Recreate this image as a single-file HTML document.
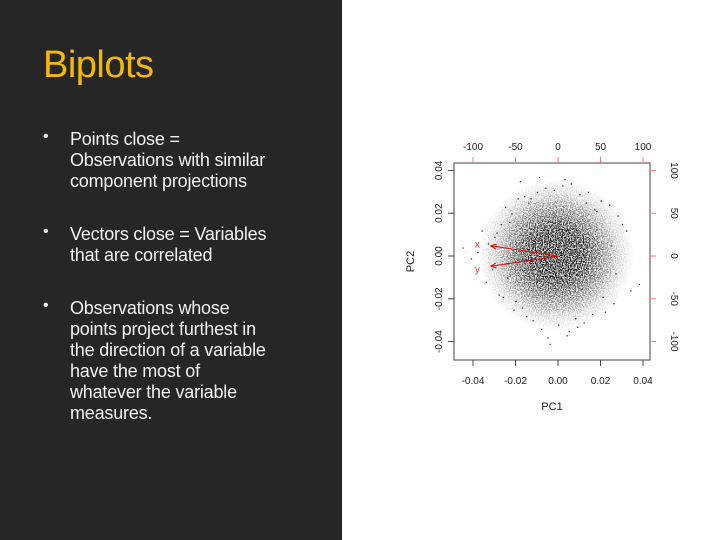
<!DOCTYPE html>
<html><head><meta charset="utf-8"><style>
body{margin:0;width:720px;height:540px;overflow:hidden;background:#fff;font-family:"Liberation Sans",sans-serif}
#left{position:absolute;left:0;top:0;width:342px;height:540px;background:#262626}
#title{position:absolute;left:43px;top:44px;font-size:38px;color:#f5b800;letter-spacing:-0.5px}
.b{position:absolute;left:70px;color:#f2f2f2;font-size:18px;line-height:21px;letter-spacing:-0.2px}
.dot{position:absolute;left:43px;color:#f2f2f2;font-size:16px}
#chart{position:absolute;left:0;top:0}
</style></head><body>
<div id="left">
<div id="title">Biplots</div>
<div class="dot" style="top:128px">•</div>
<div class="b" style="top:129px">Points close =<br>Observations with similar<br>component projections</div>
<div class="dot" style="top:223px">•</div>
<div class="b" style="top:224px">Vectors close = Variables<br>that are correlated</div>
<div class="dot" style="top:297px">•</div>
<div class="b" style="top:298px">Observations whose<br>points project furthest in<br>the direction of a variable<br>have the most of<br>whatever the variable<br>measures.</div>
</div>
<svg id="chart" width="720" height="540">
<defs>
<radialGradient id="cloud" cx="50%" cy="50%" r="50%">
<stop offset="0" stop-color="#fff" stop-opacity="1"/>
<stop offset="0.35" stop-color="#fff" stop-opacity="0.9"/>
<stop offset="0.6" stop-color="#fff" stop-opacity="0.5"/>
<stop offset="0.8" stop-color="#fff" stop-opacity="0.18"/>
<stop offset="1" stop-color="#fff" stop-opacity="0"/>
</radialGradient>
<mask id="cm"><ellipse cx="556" cy="255" rx="78" ry="76" fill="url(#cloud)"/></mask>
<filter id="speck" x="0" y="0" width="100%" height="100%">
<feTurbulence type="fractalNoise" baseFrequency="0.85" numOctaves="1" seed="3"/>
<feColorMatrix type="matrix" values="0 0 0 0 0  0 0 0 0 0  0 0 0 0 0  1.6 0 0 0 -0.35"/>
<feComponentTransfer><feFuncA type="discrete" tableValues="0 0.35 1 1"/></feComponentTransfer>
</filter>
</defs>
<g id="g"></g>
</svg>
<script>
const xTicks=[-0.04,-0.02,0,0.02,0.04];
const xTickLabels=["-0.04","-0.02","0.00","0.02","0.04"];
const yTicks=[-0.04,-0.02,0,0.02,0.04];
const yTickLabels=["-0.04","-0.02","0.00","0.02","0.04"];
const topTicks=[-100,-50,0,50,100];
const rightTicks=[-100,-50,0,50,100];
const varNames=["x","y"];
const loadX=[-79,-79];
const loadY=[12,-12];
const ptX=[-0.045,-0.041,-0.038,-0.036,-0.034,-0.033,-0.031,-0.03,-0.028,-0.027,-0.026,-0.025,-0.024,-0.022,-0.021,-0.02,-0.019,-0.018,-0.016,-0.015,-0.014,-0.012,-0.01,-0.008,-0.006,-0.004,-0.002,0,0.002,0.004,0.006,0.008,0.01,0.012,0.014,0.016,0.018,0.02,0.022,0.024,0.026,0.028,0.03,0.032,0.034,0.038,0.017,-0.017,0.005,-0.009,0.013,0.021,-0.023,0.025,-0.013,0.003,0.009,-0.005,0.027,-0.029];
const ptY=[0.004,-0.001,0.002,0.012,-0.012,0.006,-0.006,0.009,-0.018,0.015,-0.019,0.023,-0.01,0.02,-0.025,-0.021,0.027,0.035,0.028,-0.028,0.025,-0.03,0.03,-0.034,0.032,-0.041,0.031,-0.032,0.033,-0.037,0.034,-0.029,0.029,-0.031,0.03,-0.027,0.021,0.026,-0.026,0.024,-0.022,0.019,0.015,0.012,-0.016,-0.013,0.022,-0.024,-0.035,0.037,0.025,-0.019,0.016,0.005,0.027,0.036,-0.033,-0.038,-0.008,0.011];
const L=454,R=650,T=163,B=360,X0=558,Y0=256,S=2125,SY=2140;
const sx=v=>X0+v*S, sy=v=>Y0-v*SY;
const tx=v=>X0+v*0.85, ty=v=>Y0-v*0.855;
const g=document.getElementById('g');const NS='http://www.w3.org/2000/svg';
function mk(t,a,txt){const e=document.createElementNS(NS,t);for(const k in a)e.setAttribute(k,a[k]);if(txt!==undefined)e.textContent=txt;g.appendChild(e);return e;}
let c=mk('rect',{x:470,y:170,width:172,height:172,filter:'url(#speck)',mask:'url(#cm)'});


for(let i=0;i<ptX.length;i++){let p=mk('rect',{x:sx(ptX[i]),y:sy(ptY[i]),width:1.3,height:1.3,fill:'#333'});

}
let box=mk('rect',{x:L,y:T,width:R-L,height:B-T,fill:'none',stroke:'#444','stroke-width':1});


xTicks.forEach((v,i)=>{mk('line',{x1:sx(v),x2:sx(v),y1:B,y2:B+6,stroke:'#444'});
let t=mk('text',{x:sx(v),y:B+24,'font-size':10,'text-anchor':'middle',fill:'#222'},xTickLabels[i]);

});
yTicks.forEach((v,i)=>{mk('line',{x1:L-6,x2:L,y1:sy(v),y2:sy(v),stroke:'#444'});
let t=mk('text',{x:0,y:0,'font-size':10,'text-anchor':'middle',fill:'#222',transform:`translate(${L-12},${sy(v)}) rotate(-90)`},yTickLabels[i]);

});
topTicks.forEach(v=>{mk('line',{x1:tx(v),x2:tx(v),y1:T-6,y2:T,stroke:'#f77'});
let t=mk('text',{x:tx(v),y:T-13,'font-size':10,'text-anchor':'middle',fill:'#222'},String(v));

});
rightTicks.forEach(v=>{mk('line',{x1:R,x2:R+6,y1:ty(v),y2:ty(v),stroke:'#f77'});
let t=mk('text',{x:0,y:0,'font-size':10,'text-anchor':'middle',fill:'#222',transform:`translate(${R+21},${ty(v)}) rotate(90)`},String(v));

});
varNames.forEach((n,i)=>{const ex=tx(loadX[i]),ey=ty(loadY[i]);
let l=mk('line',{x1:X0,y1:Y0,x2:ex,y2:ey,stroke:'#e00','stroke-width':1});


const a=Math.atan2(ey-Y0,ex-X0);
mk('path',{d:`M${ex+6*Math.cos(a+2.7)},${ey+6*Math.sin(a+2.7)} L${ex},${ey} L${ex+6*Math.cos(a-2.7)},${ey+6*Math.sin(a-2.7)}`,stroke:'#e00',fill:'none'});
let t=mk('text',{x:tx(loadX[i]*1.2),y:ty(loadY[i]*1.2)+4,'font-size':10,'text-anchor':'middle',fill:'#e33'},n);

});
let xl=mk('text',{x:(L+R)/2,y:B+50,'font-size':11,'text-anchor':'middle',fill:'#222'},'PC1');


let yl=mk('text',{x:0,y:0,'font-size':11,'text-anchor':'middle',fill:'#222',transform:`translate(${L-40},${(T+B)/2}) rotate(-90)`},'PC2');


</script>
</body></html>
